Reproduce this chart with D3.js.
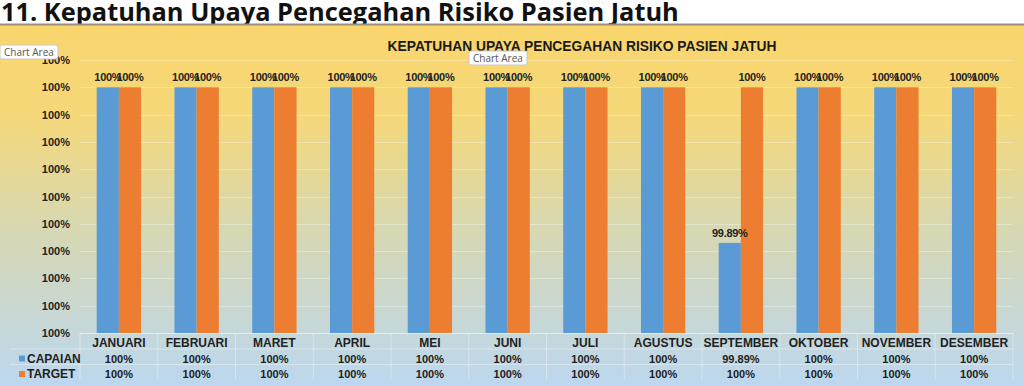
<!DOCTYPE html>
<html>
<head>
<meta charset="utf-8">
<script src="https://cdn.jsdelivr.net/npm/d3@7"></script>
<style>
  body { margin: 0; background: #fff; }
  svg { display: block; }
</style>
</head>
<body>
<div id="container"></div>
<script>
// data
var months = ["JANUARI", "FEBRUARI", "MARET", "APRIL", "MEI", "JUNI", "JULI", "AGUSTUS", "SEPTEMBER", "OKTOBER", "NOVEMBER", "DESEMBER"]
var capaian = [1, 1, 1, 1, 1, 1, 1, 1, 0.99886, 1, 1, 1]
var target = [1, 1, 1, 1, 1, 1, 1, 1, 1, 1, 1, 1]
var seriesNames = ["CAPAIAN", "TARGET"]
var colors = ["#5B9BD5", "#ED7D31"]

var width = 1024, height = 386

var svg = d3.select("#container").append("svg")
    .attr("width", width)
    .attr("height", height)

var defs = svg.append("defs")
var grad = defs.append("linearGradient")
    .attr("id", "bg").attr("x1", 0).attr("y1", 0).attr("x2", 0).attr("y2", 1)
grad.append("stop").attr("offset", "0%").attr("stop-color", "#FAD56C")
grad.append("stop").attr("offset", "25%").attr("stop-color", "#F5D87A")
grad.append("stop").attr("offset", "55%").attr("stop-color", "#D8D8B0")
grad.append("stop").attr("offset", "100%").attr("stop-color", "#BCD7EF")

// page heading
svg.append("text")
    .attr("x", 1).attr("y", 21)
    .attr("font-family", "Open Sans")
    .attr("font-weight", "bold")
    .attr("font-size", 25.4)
    .attr("fill", "#111")
    .text("11. Kepatuhan Upaya Pencegahan Risiko Pasien Jatuh")

// chart area
svg.append("rect")
    .attr("x", 0).attr("y", 25).attr("width", width).attr("height", height - 25)
    .attr("fill", "url(#bg)")
svg.append("line")
    .attr("x1", 0).attr("x2", width).attr("y1", 24.5).attr("y2", 24.5)
    .attr("stroke", "#9c9180").attr("stroke-width", 2)

svg.append("text")
    .attr("x", 582).attr("y", 51)
    .attr("text-anchor", "middle")
    .attr("font-family", "Liberation Sans, Arial")
    .attr("font-weight", "bold")
    .attr("font-size", 13.8)
    .attr("fill", "#1a1a1a")
    .text("KEPATUHAN UPAYA PENCEGAHAN RISIKO PASIEN JATUH")

var plot = { left: 80, right: 1013, top: 60, bottom: 333 }

var x = d3.scaleBand()
    .domain(months)
    .range([plot.left, plot.right])
    .paddingInner(0.43)
    .paddingOuter(0.215)

var x1 = d3.scaleBand()
    .domain(seriesNames)
    .range([0, x.bandwidth()])

var y = d3.scaleLinear()
    .domain([0.9982, 1.0002])
    .range([plot.bottom, plot.top])

var yTicks = d3.range(0, 11).map(function(i) { return 0.9982 + i * 0.0002 })
var fmt = d3.format(".0%")

var g = svg.append("g")

// gridlines
g.append("g").selectAll("line")
    .data(yTicks)
    .enter().append("line")
    .attr("x1", plot.left).attr("x2", plot.right)
    .attr("y1", function(d) { return Math.round(y(d)) + 0.5 })
    .attr("y2", function(d) { return Math.round(y(d)) + 0.5 })
    .attr("stroke", "#ffffff")
    .attr("stroke-opacity", 0.3)

// y axis
var yAxis = g.append("g")
    .attr("transform", "translate(" + (plot.left - 10) + ",0)")
    .call(d3.axisLeft(y).tickValues(yTicks).tickFormat(fmt).tickSize(0).tickPadding(0))
yAxis.select(".domain").remove()
yAxis.selectAll("text")
    .attr("font-family", "Liberation Sans, Arial")
    .attr("font-weight", "bold")
    .attr("font-size", 11)
    .attr("fill", "#222")

// bars
var rows = months.map(function(m, i) {
  return { month: m, values: [
    { key: "CAPAIAN", v: capaian[i] },
    { key: "TARGET", v: target[i] }
  ] }
})

var groups = g.append("g").selectAll("g")
    .data(rows)
    .enter().append("g")
    .attr("transform", function(d) { return "translate(" + x(d.month) + ",0)" })

groups.selectAll("rect")
    .data(function(d) { return d.values })
    .enter().append("rect")
    .attr("x", function(d) { return x1(d.key) })
    .attr("width", x1.bandwidth())
    .attr("y", function(d) { return y(d.v) })
    .attr("height", function(d) { return plot.bottom - y(d.v) })
    .attr("fill", function(d, i) { return colors[i] })

var pct2 = function(v) { return v === 1 ? "100%" : d3.format(".2%")(v) }

groups.selectAll("text")
    .data(function(d) { return d.values })
    .enter().append("text")
    .attr("x", function(d) { return x1(d.key) + x1.bandwidth() / 2 })
    .attr("y", function(d) { return y(d.v) - 6 })
    .attr("text-anchor", "middle")
    .attr("font-family", "Liberation Sans, Arial")
    .attr("font-weight", "bold")
    .attr("font-size", 11)
    .attr("letter-spacing", -0.3)
    .attr("fill", "#222")
    .text(function(d) { return pct2(d.v) })

// data table
var tableTop = plot.bottom, rowH = 15.5
var tbl = g.append("g")
tbl.selectAll("line.h")
    .data([0, 1, 2])
    .enter().append("line")
    .attr("x1", function(d) { return d === 0 ? plot.left : 10 })
    .attr("x2", plot.right)
    .attr("y1", function(d) { return tableTop + d * rowH + 0.5 })
    .attr("y2", function(d) { return tableTop + d * rowH + 0.5 })
    .attr("stroke", "#ffffff").attr("stroke-opacity", 0.35)
tbl.selectAll("line.v")
    .data(d3.range(months.length + 1))
    .enter().append("line")
    .attr("x1", function(d) { return plot.left + d * x.step() })
    .attr("x2", function(d) { return plot.left + d * x.step() })
    .attr("y1", tableTop).attr("y2", tableTop + 3 * rowH)
    .attr("stroke", "#ffffff").attr("stroke-opacity", 0.35)

var tstyle = function(sel) {
  sel.attr("font-family", "Liberation Sans, Arial")
    .attr("font-weight", "bold")
    .attr("font-size", 11)
    .attr("fill", "#222")
}

tbl.selectAll("text.cat")
    .data(months)
    .enter().append("text")
    .attr("x", function(d) { return x(d) + x.bandwidth() / 2 })
    .attr("y", tableTop + 14)
    .attr("text-anchor", "middle")
    .call(tstyle)
    .attr("font-size", 12)
    .text(function(d) { return d })

var series = [capaian, target]
series.forEach(function(vals, si) {
  var yy = tableTop + 14 + (si + 1) * rowH
  tbl.append("rect")
      .attr("x", 19).attr("y", yy - 7).attr("width", 6).attr("height", 6)
      .attr("fill", colors[si])
  tbl.append("text")
      .attr("x", 27).attr("y", yy)
      .call(tstyle)
      .attr("font-size", 12)
      .text(seriesNames[si])
  tbl.selectAll("text.s" + si)
      .data(vals)
      .enter().append("text")
      .attr("x", function(d, i) { return x(months[i]) + x.bandwidth() / 2 })
      .attr("y", yy)
      .attr("text-anchor", "middle")
      .call(tstyle)
      .text(function(d) { return pct2(d) })
})

// "Chart Area" tooltips
var tips = [{ x: 0, y: 45, w: 58 }, { x: 469, y: 51, w: 58 }]
tips.forEach(function(t) {
  svg.append("rect")
      .attr("x", t.x).attr("y", t.y).attr("width", t.w).attr("height", 14)
      .attr("fill", "#fff").attr("stroke", "#c8c8c8").attr("rx", 2)
  svg.append("text")
      .attr("x", t.x + 4).attr("y", t.y + 10.5)
      .attr("font-family", "Open Sans")
      .attr("font-size", 10)
      .attr("fill", "#555")
      .text("Chart Area")
})
</script>
</body>
</html>
